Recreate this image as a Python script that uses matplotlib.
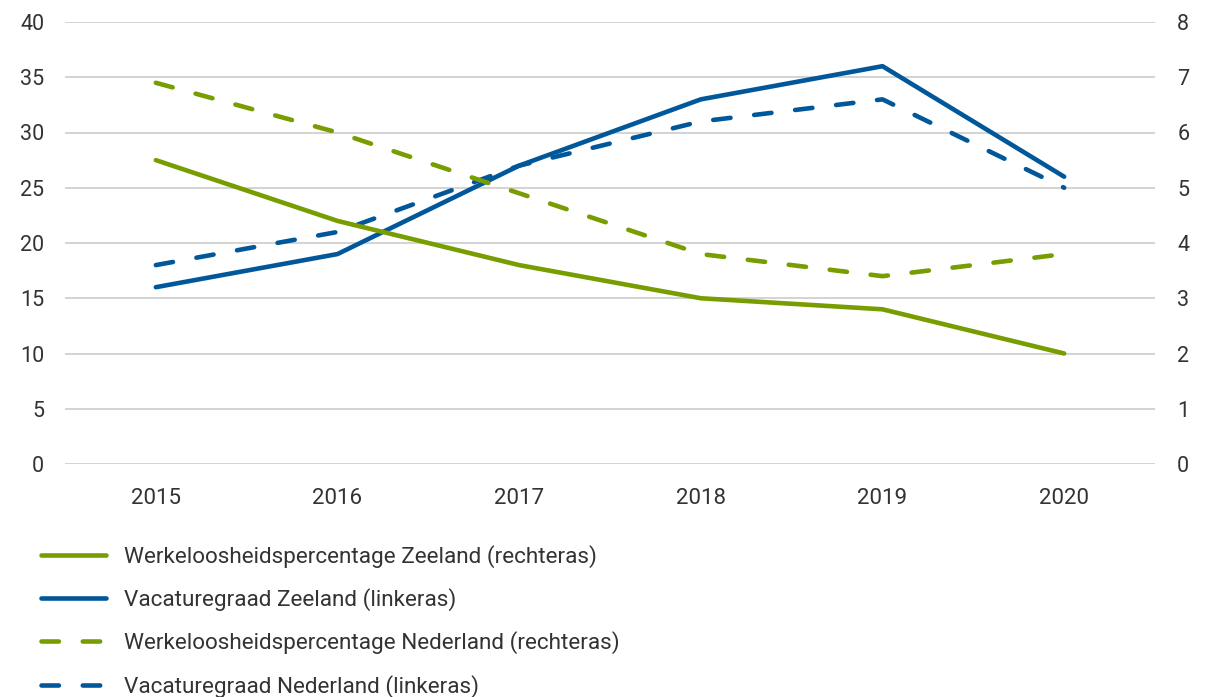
import matplotlib
matplotlib.use("Agg")
import matplotlib.pyplot as plt

years = ["2015", "2016", "2017", "2018", "2019", "2020"]
werk_zeeland = [5.5, 4.4, 3.6, 3.0, 2.8, 2.0]      # right axis
vac_zeeland = [16, 19, 27, 33, 36, 26]            # left axis
werk_nederland = [6.9, 6.0, 4.9, 3.8, 3.4, 3.8]   # right axis
vac_nederland = [18, 21, 27, 31, 33, 25]          # left axis

labels = [
    "Werkeloosheidspercentage Zeeland (rechteras)",
    "Vacaturegraad Zeeland (linkeras)",
    "Werkeloosheidspercentage Nederland (rechteras)",
    "Vacaturegraad Nederland (linkeras)",
]

GREEN = "#779d00"
BLUE = "#00589b"
TXT = "#333333"

plt.rcParams["font.family"] = ["Roboto", "DejaVu Sans"]

fig = plt.figure(figsize=(12.05, 6.97), dpi=100)
ax = fig.add_axes([65/1205, 1-464/697, (1155-65)/1205, (464-22)/697])
ax2 = ax.twinx()

x = list(range(len(years)))
lw = 3.3
dash = (3.8, 5.2)

l2, = ax.plot(x, vac_zeeland, color=BLUE, lw=lw, solid_capstyle="round", solid_joinstyle="round", zorder=3)
l4, = ax.plot(x, vac_nederland, color=BLUE, lw=lw, dashes=dash, dash_capstyle="round", zorder=3)
l1, = ax2.plot(x, werk_zeeland, color=GREEN, lw=lw, solid_capstyle="round", solid_joinstyle="round", zorder=3)
l3, = ax2.plot(x, werk_nederland, color=GREEN, lw=lw, dashes=dash, dash_capstyle="round", zorder=3)

ax.set_xlim(-0.5, 5.5)
ax.set_ylim(0, 40)
ax2.set_ylim(0, 8)
ax.set_yticks(range(0, 41, 5))
ax2.set_yticks(range(0, 9, 1))
ax.set_xticks(x)
ax.set_xticklabels(years)

ax.grid(axis="y", color="#cccccc", lw=1.2)
ax.set_axisbelow(True)
for a in (ax, ax2):
    for s in a.spines.values():
        s.set_visible(False)
ax.tick_params(axis="y", length=0, pad=15, labelsize=15.5, labelcolor=TXT)
ax2.tick_params(axis="y", length=0, pad=16, labelsize=15.5, labelcolor=TXT)
ax.tick_params(axis="x", length=0, pad=17, labelsize=16, labelcolor=TXT)

handles = [l1, l2, l3, l4]
fig.legend(handles, labels, loc="upper left", bbox_to_anchor=(41/1205, 1-545/697),
           frameon=False, fontsize=16.2, handlelength=2.9, handletextpad=0.8,
           labelspacing=0.9, borderpad=0, borderaxespad=0, labelcolor=TXT)

fig.savefig("out.png", dpi=100)
